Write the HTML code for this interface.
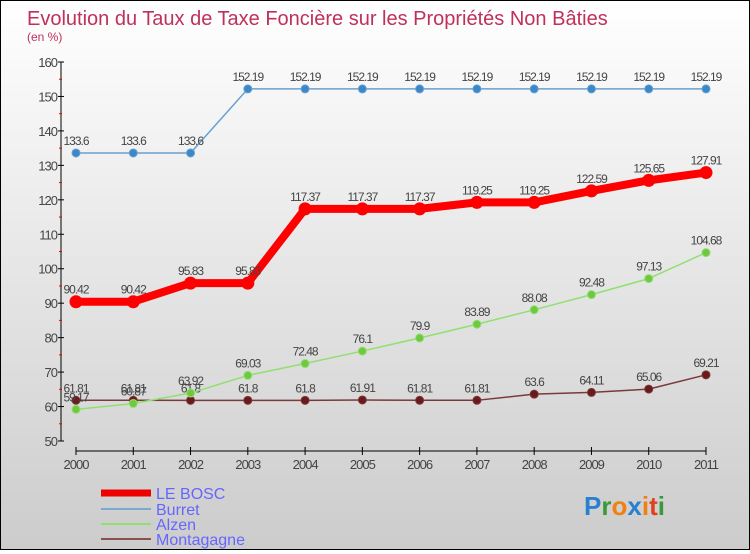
<!DOCTYPE html>
<html><head><meta charset="utf-8"><style>
body{margin:0;width:750px;height:550px;overflow:hidden}
#c{position:absolute;left:0;top:0;width:748px;height:548px;border:1px solid #000;background:linear-gradient(#fff,#ccc)}
svg text{font-family:"Liberation Sans",sans-serif}
</style></head><body>
<div id="c">
<svg id="s" width="748" height="548" xmlns="http://www.w3.org/2000/svg">
<text x="26" y="24" font-size="20" fill="#c0305a">Evolution du Taux de Taxe Foncière sur les Propriétés Non Bâties</text>
<text x="26" y="40" font-size="12" fill="#c0305a">(en %)</text>
<g id="axes"></g><g id="series"></g>
<g>
<line x1="100" y1="492" x2="150" y2="492" stroke="#e00" stroke-width="7"/>
<text x="155" y="498" font-size="16" fill="#66f">LE BOSC</text>
<line x1="100" y1="508" x2="150" y2="508" stroke="#7aaad0" stroke-width="2"/>
<text x="155" y="514" font-size="16" fill="#66f">Burret</text>
<line x1="100" y1="523" x2="150" y2="523" stroke="#90e070" stroke-width="2"/>
<text x="155" y="529" font-size="16" fill="#66f">Alzen</text>
<line x1="100" y1="538" x2="150" y2="538" stroke="#8a5050" stroke-width="2"/>
<text x="155" y="544" font-size="16" fill="#66f">Montagagne</text>
</g>
<text x="583" y="514" font-size="26" font-weight="bold"><tspan fill="#2a7fd0">P</tspan><tspan fill="#3a9a3a">r</tspan><tspan fill="#f08010">o</tspan><tspan fill="#2a7fd0">x</tspan><tspan fill="#f08010">i</tspan><tspan fill="#e04020">t</tspan><tspan fill="#3a9a3a">i</tspan></text>
</svg></div>
<script>
const years=[2000,2001,2002,2003,2004,2005,2006,2007,2008,2009,2010,2011];
const yTicks=[50,60,70,80,90,100,110,120,130,140,150,160];
const leBosc=[90.42,90.42,95.83,95.83,117.37,117.37,117.37,119.25,119.25,122.59,125.65,127.91];
const burret=[133.6,133.6,133.6,152.19,152.19,152.19,152.19,152.19,152.19,152.19,152.19,152.19];
const alzen=[59.17,60.87,63.92,69.03,72.48,76.1,79.9,83.89,88.08,92.48,97.13,104.68];
const montagagne=[61.81,61.81,61.8,61.8,61.8,61.91,61.81,61.81,63.6,64.11,65.06,69.21];
const NS="http://www.w3.org/2000/svg";
const X=i=>75+i*(630/11), Y=v=>440-(v-50)*(379/110);
function mk(t,a,p){const e=document.createElementNS(NS,t);for(const k in a)e.setAttribute(k,a[k]);p.appendChild(e);return e;}
const ax=document.getElementById('axes');
mk('line',{x1:60,y1:Y(160),x2:60,y2:Y(50),stroke:'#000'},ax);
mk('line',{x1:75,y1:450,x2:705,y2:450,stroke:'#000'},ax);
yTicks.forEach(v=>{mk('line',{x1:57,y1:Y(v),x2:63,y2:Y(v),stroke:'#000'},ax);
 if(v<160)mk('line',{x1:58,y1:Y(v+5),x2:61,y2:Y(v+5),stroke:'#e00'},ax);
 const t=mk('text',{x:56,y:Y(v)+5,'font-size':13,fill:'#444','text-anchor':'end','letter-spacing':'-1'},ax);t.textContent=v;
 });
years.forEach((y,i)=>{mk('line',{x1:X(i),y1:446,x2:X(i),y2:454,stroke:'#000'},ax);
 const t=mk('text',{x:X(i),y:468,'font-size':13,fill:'#444','text-anchor':'middle','letter-spacing':'-1'},ax);t.textContent=y;
 });
const sg=document.getElementById('series');
function series(name,d,col,fill,w,r){const g=mk('g',{},sg);
 
 mk('polyline',{points:d.map((v,i)=>X(i)+','+Y(v)).join(' '),fill:'none',stroke:col,'stroke-width':w,'stroke-linejoin':'round'},g);
 d.forEach((v,i)=>{const c=mk('circle',{cx:X(i),cy:Y(v),r:r,fill:fill,stroke:col},g);
  
  const t=mk('text',{x:X(i),y:Y(v)-8,'font-size':12,fill:'#444','text-anchor':'middle','letter-spacing':'-1'},g);t.textContent=v;
  });}
series('montagagne',montagagne,'#7a3a3a','#6a1a1a',1.5,4);
series('alzen',alzen,'#90e070','#70c840',1.5,4);
series('burret',burret,'#6aa0d0','#3a88c8',1.5,4);
series('le-bosc',leBosc,'#f00','#f00',8,6);
</script></body></html>
